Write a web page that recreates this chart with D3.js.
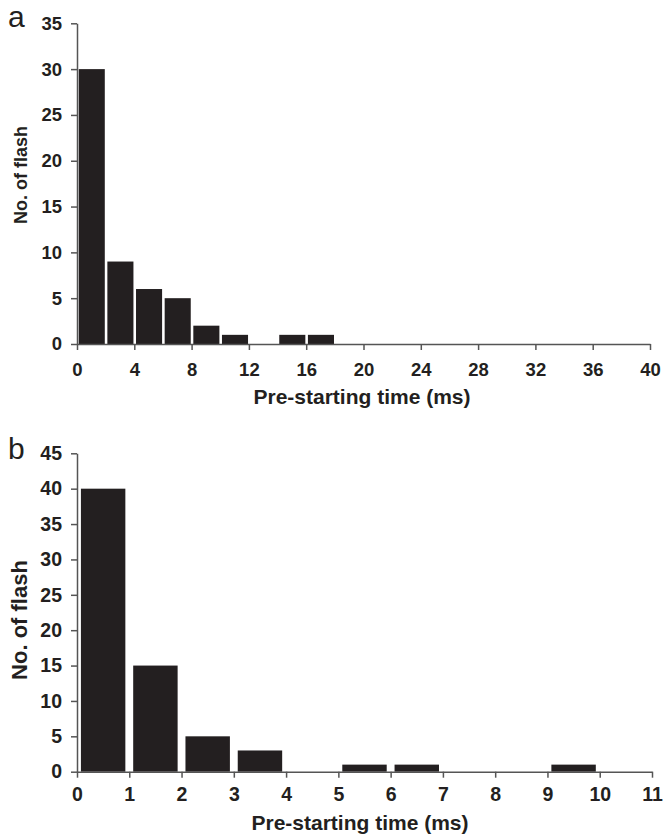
<!DOCTYPE html>
<html lang="en">
<head>
    <meta charset="UTF-8">
    <title>Pre-starting time histograms</title>
    <script src="https://d3js.org/d3.v7.min.js"></script>
    <style>
        body{
            margin: 0;
            background: white;
        }
        svg{
            display: block;
            font-family: "Liberation Sans", Arial, sans-serif;
        }
        .tick text{
            font-weight: bold;
            fill: #231f20;
        }
        .axis path, .axis line{
            stroke: #555;
            stroke-width: 1.5;
        }
        .title{
            font-weight: bold;
            fill: #231f20;
        }
        .panel{
            font-size: 30px;
            fill: #231f20;
        }
    </style>
</head>
<body>
<svg></svg>
<script>
    const width = 663;
    const height = 834;

    /* panel a: 2 ms bins */
    const binStartsA = [0, 2, 4, 6, 8, 10, 12, 14, 16];
    const countsA = [30, 9, 6, 5, 2, 1, 0, 1, 1];
    const xTicksA = [0, 4, 8, 12, 16, 20, 24, 28, 32, 36, 40];
    const yTicksA = [0, 5, 10, 15, 20, 25, 30, 35];

    /* panel b: 1 ms bins */
    const binStartsB = [0, 1, 2, 3, 4, 5, 6, 7, 8, 9, 10];
    const countsB = [40, 15, 5, 3, 0, 1, 1, 0, 0, 1, 0];
    const xTicksB = [0, 1, 2, 3, 4, 5, 6, 7, 8, 9, 10, 11];
    const yTicksB = [0, 5, 10, 15, 20, 25, 30, 35, 40, 45];

    const svg = d3.select('svg')
        .attr('width', width)
        .attr('height', height);

    function drawPanel(opt){
        const g = svg.append('g');
        const x = d3.scaleLinear().domain(opt.xDomain).range([opt.left, opt.right]);
        const y = d3.scaleLinear().domain(opt.yDomain).range([opt.bottom, opt.top]);

        /* bars, slightly narrower than their bin */
        const bins = opt.starts.map((s, i) => ({start: s, count: opt.counts[i]}));
        g.selectAll('rect')
            .data(bins.filter(d => d.count > 0))
            .join('rect')
            .attr('x', d => x(d.start + opt.binW * opt.pad))
            .attr('width', d => x(d.start + opt.binW * opt.fill) - x(d.start))
            .attr('y', d => y(d.count))
            .attr('height', d => y(0) - y(d.count))
            .attr('fill', '#231f20');

        /* axes */
        const xAxis = g.append('g')
            .attr('class', 'axis')
            .attr('transform', `translate(0,${opt.bottom})`)
            .call(d3.axisBottom(x).tickValues(opt.xTicks).tickSize(6).tickPadding(opt.xPad).tickSizeOuter(0));
        const yAxis = g.append('g')
            .attr('class', 'axis')
            .attr('transform', `translate(${opt.left},0)`)
            .call(d3.axisLeft(y).tickValues(opt.yTicks).tickSize(6).tickPadding(9).tickSizeOuter(0));
        xAxis.selectAll('text').style('font-size', opt.tickSize + 'px');
        yAxis.selectAll('text').style('font-size', opt.tickSize + 'px');

        /* titles */
        g.append('text')
            .attr('class', 'title')
            .style('font-size', opt.xTitleSize + 'px')
            .attr('x', opt.titleX)
            .attr('y', opt.titleY)
            .attr('text-anchor', 'middle')
            .text('Pre-starting time (ms)');
        g.append('text')
            .attr('class', 'title')
            .style('font-size', opt.yTitleSize + 'px')
            .attr('transform', `translate(27,${opt.yTitleY}) rotate(-90)`)
            .attr('text-anchor', 'middle')
            .text('No. of flash');
        g.append('text')
            .attr('class', 'panel')
            .attr('x', 8)
            .attr('y', opt.labelY)
            .text(opt.label);
    }

    drawPanel({
        label: 'a', starts: binStartsA, counts: countsA, binW: 2, pad: 0.06, fill: 0.91,
        xDomain: [0, 40], yDomain: [0, 35], xTicks: xTicksA, yTicks: yTicksA,
        left: 77, right: 650, top: 23.3, bottom: 344,
        tickSize: 18.5, xPad: 13, xTitleSize: 21, yTitleSize: 18, titleX: 362, titleY: 404,
        yTitleY: 175, labelY: 27
    });
    drawPanel({
        label: 'b', starts: binStartsB, counts: countsB, binW: 1, pad: 0.075, fill: 0.85,
        xDomain: [0, 11], yDomain: [0, 45], xTicks: xTicksB, yTicks: yTicksB,
        left: 77, right: 652, top: 453.3, bottom: 771.7,
        tickSize: 19.5, xPad: 9, xTitleSize: 21, yTitleSize: 22, titleX: 360, titleY: 830,
        yTitleY: 620, labelY: 459
    });
</script>
</body>
</html>
